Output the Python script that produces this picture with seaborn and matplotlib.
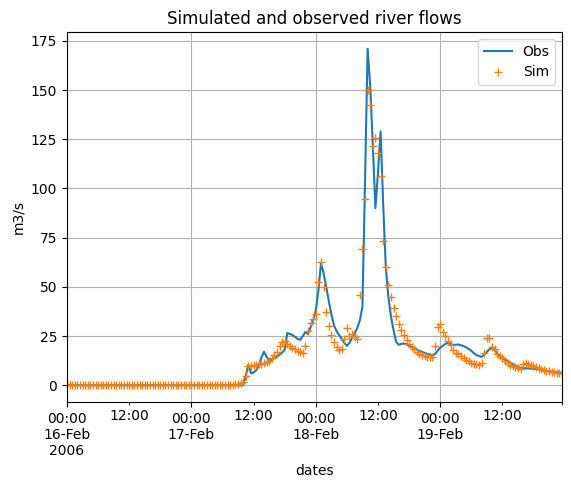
import numpy as np
import pandas as pd
import matplotlib
matplotlib.use("Agg")
import matplotlib.pyplot as plt
import matplotlib.dates as mdates
from matplotlib.ticker import FuncFormatter, FixedLocator
import seaborn as sns

start = "2006-02-16 00:00"
step = "30min"

obs = [
    0, 0, 0, 0, 0, 0, 0, 0, 0, 0, 0, 0, 0, 0, 0, 0, 0, 0, 0, 0,
    0, 0, 0, 0, 0, 0, 0, 0, 0, 0, 0, 0, 0, 0, 0, 0, 0, 0, 0, 0,
    0, 0, 0, 0, 0, 0, 0, 0, 0, 0, 0, 0, 0, 0, 0, 0, 0, 0, 0, 0,
    0, 0, 0, 0, 0, 0, 0, 0, 0, 5, 10.5, 6, 6.5, 7.5, 10, 14, 17, 14.5, 12.7, 13,
    13.8, 14.4, 15.5, 16.5, 18, 26.5, 26, 25.5, 24.5, 23.5, 23, 25, 27, 26, 29.5, 33, 38, 48, 62, 57,
    50, 43, 36, 30.5, 27.5, 25.5, 23.5, 21.5, 20, 21.5, 24, 26.5, 29, 33, 40, 104, 171, 152, 122, 90,
    108, 129, 92, 60, 45, 35, 28, 22, 20.5, 21, 21.2, 20.8, 20, 19.5, 19, 18, 17.5, 17, 16.4, 16,
    15.5, 15.2, 15.8, 17.5, 19, 20, 21, 21.5, 21, 20.4, 20.5, 20.7, 20.3, 19.9, 19.2, 18.5, 17.5, 16.3, 15.3, 14.8,
    14.4, 15.5, 17, 18.2, 19.2, 17.8, 16, 14.6, 13.8, 13, 12.4, 11.5, 10.7, 10, 9.4, 8.8, 8.7, 8.6, 8.5, 8.4,
    8.3, 8.2, 8.1, 7.8, 7.5, 7.3, 7.1, 6.9, 6.8, 6.6, 6.4, 6.3,
]

sim = [
    0, 0, 0, 0, 0, 0, 0, 0, 0, 0, 0, 0, 0, 0, 0, 0, 0, 0, 0, 0,
    0, 0, 0, 0, 0, 0, 0, 0, 0, 0, 0, 0, 0, 0, 0, 0, 0, 0, 0, 0,
    0, 0, 0, 0, 0, 0, 0, 0, 0, 0, 0, 0, 0, 0, 0, 0, 0, 0, 0, 0,
    0, 0, 0, 0, 0.3, 0.5, 0.8, 1.0, 1.5, 4.6, 9.5, 10, 10.2, 10.5, 10.8, 11, 11.3, 11.8, 12.5, 14,
    15.5, 17, 20, 22.2, 22.5, 21, 19.8, 18.8, 18.2, 17.6, 17, 16.4, 20, 27.6, 31.5, 33.5, 36, 52.6, 62.5, 50,
    37, 30, 25.5, 22, 19.5, 18, 18.2, 23.5, 29.2, 25, 26, 24.3, 23.3, 45.8, 69, 94.5, 150, 142.6, 121.7, 125.6,
    118, 106.4, 73.5, 60, 51, 45, 39, 35, 31, 28, 25.5, 23, 21, 19.5, 18.2, 17, 16.1, 15.3, 14.8, 14.4,
    14.1, 14.4, 20, 29.7, 31, 27, 25, 22.5, 20.4, 18, 16.5, 15.6, 14.8, 13.8, 13, 12.2, 11.5, 11, 10.6, 10.2,
    11.4, 16.4, 24, 24, 19.5, 18.2, 16.1, 14.8, 13.6, 12.5, 11.5, 10.5, 9.8, 9.2, 8.6, 8.0, 11, 11.4, 10.8, 10.2,
    9.5, 9, 8.5, 8, 7.7, 7.4, 7.1, 6.8, 6.6, 6.4, 6.2, 6.0,
]

times = pd.date_range(start, periods=len(obs), freq=step)
df = pd.DataFrame({"dates": times, "Obs": obs, "Sim": sim})

fig = plt.figure(figsize=(5.71, 4.87), dpi=100)
ax = fig.add_axes([67 / 571, 1 - 402 / 487, (562 - 67) / 571, (402 - 32) / 487])

sns.lineplot(data=df, x="dates", y="Obs", ax=ax, color="C0", label="Obs", linewidth=1.5)
sns.lineplot(data=df, x="dates", y="Sim", ax=ax, color="C1", label="Sim",
             marker="+", linestyle="", markersize=6,
             markeredgecolor="C1", markeredgewidth=1.0)

ax.set_xlim(times[0], times[-1])

ax.xaxis.set_major_locator(mdates.DayLocator())
minor_pos = [mdates.date2num(t) for t in pd.date_range("2006-02-16 12:00", periods=4, freq="24h")]
minor_pos.append(mdates.date2num(times[-1]))
ax.xaxis.set_minor_locator(FixedLocator(minor_pos))


def major_fmt(x, pos):
    d = mdates.num2date(x)
    s = d.strftime("%H:%M\n%d-%b")
    if pos == 0:
        s += d.strftime("\n%Y")
    return s


def minor_fmt(x, pos):
    d = mdates.num2date(x)
    if d.hour == 12 and d.minute == 0:
        return d.strftime("%H:%M")
    return ""


ax.xaxis.set_major_formatter(FuncFormatter(major_fmt))
ax.xaxis.set_minor_formatter(FuncFormatter(minor_fmt))
for lab in ax.get_xticklabels(which="both"):
    lab.set_rotation(0)
    lab.set_ha("center")

ax.grid(True, which="major")
ax.set_title("Simulated and observed river flows")
ax.set_xlabel("dates")
ax.set_ylabel("m3/s")
ax.legend(loc="upper right")

fig.savefig("out.png", dpi=100)
